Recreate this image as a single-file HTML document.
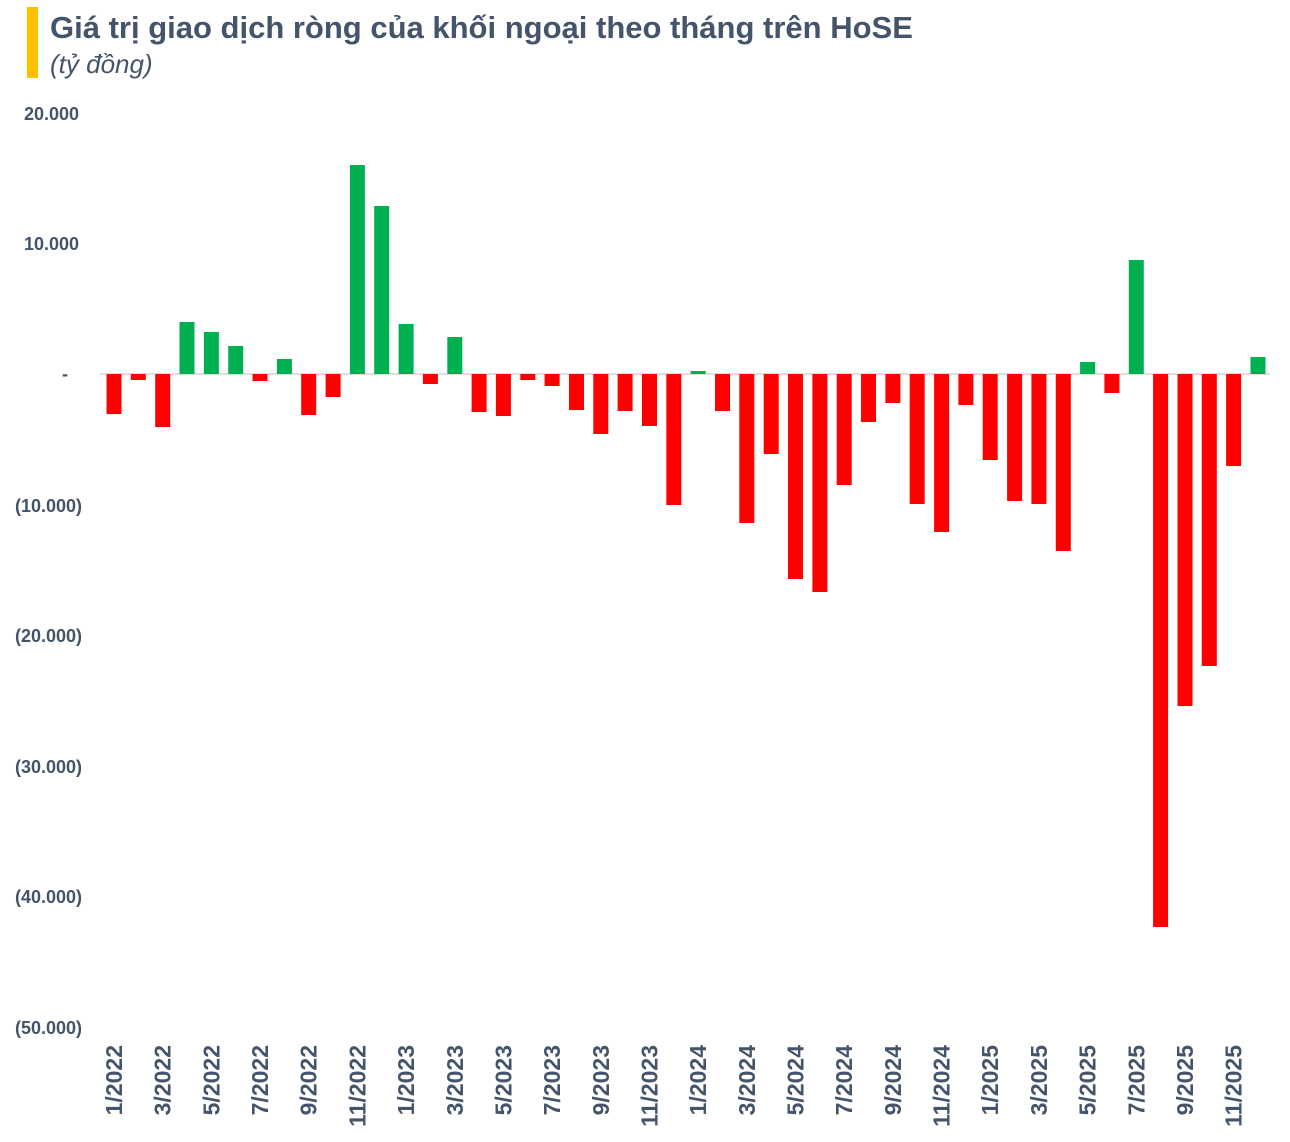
<!DOCTYPE html>
<html><head><meta charset="utf-8"><style>
html,body{margin:0;padding:0;background:#fff;}
svg{display:block;font-family:"Liberation Sans",sans-serif;}
</style></head><body>
<svg width="1290" height="1142" viewBox="0 0 1290 1142" xmlns="http://www.w3.org/2000/svg">
<rect x="27" y="7" width="11" height="71" fill="#FFC000"/>
<text x="50" y="38" font-size="31" font-weight="bold" fill="#44546A">Giá trị giao dịch ròng của khối ngoại theo tháng trên HoSE</text>
<text x="50" y="73" font-size="26" font-style="italic" fill="#44546A">(tỷ đồng)</text>
<g font-size="18" font-weight="bold" fill="#44546A" text-anchor="end">
<text x="79" y="120">20.000</text>
<text x="79" y="250">10.000</text>
<text x="68" y="380">-</text>
<text x="82" y="512">(10.000)</text>
<text x="82" y="642">(20.000)</text>
<text x="82" y="773">(30.000)</text>
<text x="82" y="903">(40.000)</text>
<text x="82" y="1034">(50.000)</text>
</g>
<line x1="100" y1="374" x2="1270" y2="374" stroke="#bfbfbf" stroke-width="1"/>
<g fill="#FF0000">
<rect x="106.5" y="374" width="15" height="40"/>
<rect x="130.8" y="374" width="15" height="6"/>
<rect x="155.2" y="374" width="15" height="53"/>
<rect x="252.5" y="374" width="15" height="7"/>
<rect x="301.2" y="374" width="15" height="41"/>
<rect x="325.6" y="374" width="15" height="23"/>
<rect x="422.9" y="374" width="15" height="10"/>
<rect x="471.6" y="374" width="15" height="38"/>
<rect x="495.9" y="374" width="15" height="42"/>
<rect x="520.3" y="374" width="15" height="6"/>
<rect x="544.6" y="374" width="15" height="12"/>
<rect x="569.0" y="374" width="15" height="36"/>
<rect x="593.3" y="374" width="15" height="60"/>
<rect x="617.6" y="374" width="15" height="37"/>
<rect x="642.0" y="374" width="15" height="52"/>
<rect x="666.3" y="374" width="15" height="131"/>
<rect x="715.0" y="374" width="15" height="37"/>
<rect x="739.3" y="374" width="15" height="149"/>
<rect x="763.7" y="374" width="15" height="80"/>
<rect x="788.0" y="374" width="15" height="205"/>
<rect x="812.4" y="374" width="15" height="218"/>
<rect x="836.7" y="374" width="15" height="111"/>
<rect x="861.0" y="374" width="15" height="48"/>
<rect x="885.4" y="374" width="15" height="29"/>
<rect x="909.7" y="374" width="15" height="130"/>
<rect x="934.1" y="374" width="15" height="158"/>
<rect x="958.4" y="374" width="15" height="31"/>
<rect x="982.7" y="374" width="15" height="86"/>
<rect x="1007.1" y="374" width="15" height="127"/>
<rect x="1031.4" y="374" width="15" height="130"/>
<rect x="1055.8" y="374" width="15" height="177"/>
<rect x="1104.4" y="374" width="15" height="19"/>
<rect x="1153.1" y="374" width="15" height="553"/>
<rect x="1177.5" y="374" width="15" height="332"/>
<rect x="1201.8" y="374" width="15" height="292"/>
<rect x="1226.1" y="374" width="15" height="92"/>
</g>
<g fill="#00B050">
<rect x="179.5" y="322" width="15" height="52"/>
<rect x="203.9" y="332" width="15" height="42"/>
<rect x="228.2" y="346" width="15" height="28"/>
<rect x="276.9" y="359" width="15" height="15"/>
<rect x="349.9" y="165" width="15" height="209"/>
<rect x="374.2" y="206" width="15" height="168"/>
<rect x="398.6" y="324" width="15" height="50"/>
<rect x="447.3" y="337" width="15" height="37"/>
<rect x="690.7" y="371" width="15" height="3"/>
<rect x="1080.1" y="362" width="15" height="12"/>
<rect x="1128.8" y="260" width="15" height="114"/>
<rect x="1250.5" y="357" width="15" height="17"/>
</g>
<g font-size="23" font-weight="bold" fill="#44546A" text-anchor="end">
<text transform="translate(122,1045) rotate(-90)">1/2022</text>
<text transform="translate(170.7,1045) rotate(-90)">3/2022</text>
<text transform="translate(219.4,1045) rotate(-90)">5/2022</text>
<text transform="translate(268,1045) rotate(-90)">7/2022</text>
<text transform="translate(316.7,1045) rotate(-90)">9/2022</text>
<text transform="translate(365.4,1045) rotate(-90)">11/2022</text>
<text transform="translate(414.1,1045) rotate(-90)">1/2023</text>
<text transform="translate(462.8,1045) rotate(-90)">3/2023</text>
<text transform="translate(511.4,1045) rotate(-90)">5/2023</text>
<text transform="translate(560.1,1045) rotate(-90)">7/2023</text>
<text transform="translate(608.8,1045) rotate(-90)">9/2023</text>
<text transform="translate(657.5,1045) rotate(-90)">11/2023</text>
<text transform="translate(706.2,1045) rotate(-90)">1/2024</text>
<text transform="translate(754.8,1045) rotate(-90)">3/2024</text>
<text transform="translate(803.5,1045) rotate(-90)">5/2024</text>
<text transform="translate(852.2,1045) rotate(-90)">7/2024</text>
<text transform="translate(900.9,1045) rotate(-90)">9/2024</text>
<text transform="translate(949.6,1045) rotate(-90)">11/2024</text>
<text transform="translate(998.2,1045) rotate(-90)">1/2025</text>
<text transform="translate(1046.9,1045) rotate(-90)">3/2025</text>
<text transform="translate(1095.6,1045) rotate(-90)">5/2025</text>
<text transform="translate(1144.3,1045) rotate(-90)">7/2025</text>
<text transform="translate(1193,1045) rotate(-90)">9/2025</text>
<text transform="translate(1241.6,1045) rotate(-90)">11/2025</text>
</g>
</svg>
</body></html>
